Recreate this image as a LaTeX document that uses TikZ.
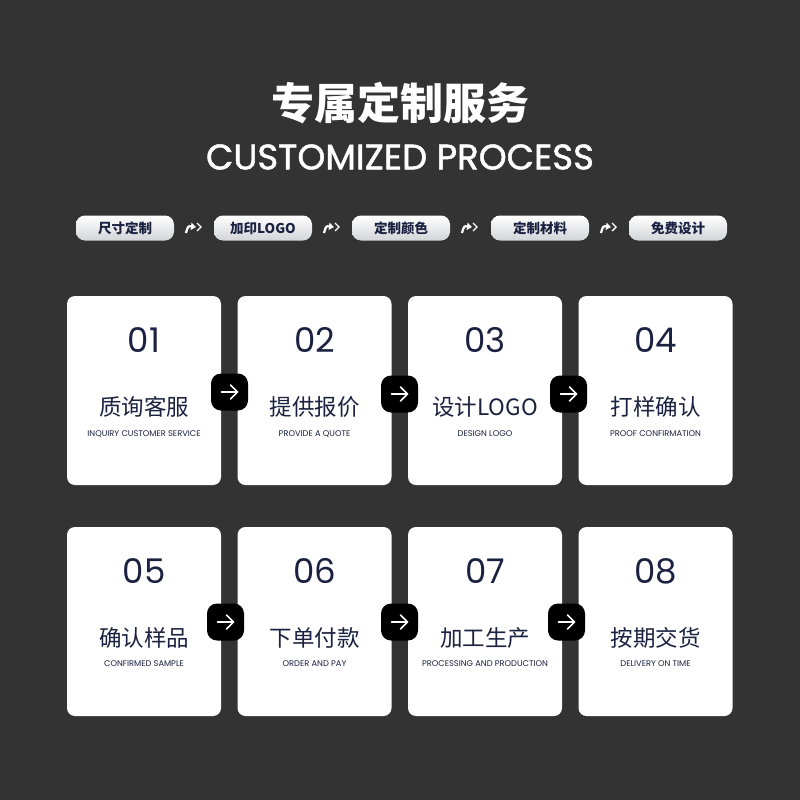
\documentclass[tikz,border=0pt]{standalone}
\usepackage{fontspec}
\setmainfont{Poppins}
\newfontfamily\cjk{Noto Sans CJK SC}
\newfontfamily\titlefont[FakeBold=1.3]{Poppins}
\usetikzlibrary{arrows.meta,positioning}
\definecolor{bgdark}{HTML}{333333}
\definecolor{navy}{HTML}{1B2140}
\definecolor{pillgray}{HTML}{D3D4D8}
\tikzset{
  pill/.style={rounded corners=9pt, minimum width=98pt, minimum height=25pt, inner sep=0pt,
    top color=white, bottom color=pillgray, text=navy, font=\cjk\bfseries\fontsize{13.5}{13.5}\selectfont},
  card/.style={fill=white, rounded corners=8pt, minimum width=154pt, minimum height=189pt, inner sep=0pt},
  stepnum/.style={text=navy, inner sep=0pt, font=\fontsize{34}{34}\selectfont},
  stepzh/.style={text=navy, inner sep=0pt, font=\cjk\fontsize{22.5}{22.5}\selectfont},
  stepen/.style={text=navy, inner sep=0pt, font=\fontsize{8.3}{8.3}\selectfont},
  nextbox/.style={fill=black, rounded corners=10pt, minimum size=37pt, inner sep=0pt},
  nextarrow/.style={white, line width=1.5pt, line cap=round, line join=round},
}
% small white arrow between two pills, #1 = name of its coordinate
\newcommand{\pillarrow}[1]{%
  \draw[white, line width=2.2pt, -{Triangle[length=5pt,width=7pt]}] ([shift={(-8,5)}]#1) .. controls ([shift={(-6,-2)}]#1) .. ([shift={(2,-1)}]#1);
  \draw[white, line width=1.4pt] ([shift={(3,-5)}]#1) -- ([shift={(7,-1)}]#1) -- ([shift={(3,3)}]#1);
}
% white arrow inside a black box
\newcommand{\boxarrow}[1]{%
  \draw[nextarrow] ([xshift=-8pt]#1.center) -- ([xshift=8pt]#1.center);
  \draw[nextarrow] ([shift={(1,-7)}]#1.center) -- ([xshift=8pt]#1.center) -- ([shift={(1,7)}]#1.center);
}
\begin{document}
\begin{tikzpicture}[x=1pt,y=-1pt]
\fill[bgdark] (0,0) rectangle (800,800);
% Title
\node[text=white, inner sep=0pt, font=\cjk\bfseries\fontsize{43}{43}\selectfont] (title) at (400,103) {专属定制服务};
\node[text=white, inner sep=0pt, font=\titlefont\fontsize{35.5}{35.5}\selectfont] (subtitle) at (400,157) {CUSTOMIZED PROCESS};
% Pills
\node[pill] (p1) at (125,228) {尺寸定制};
\node[pill] (p2) at (263,228) {加印LOGO};
\node[pill] (p3) at (401,228) {定制颜色};
\node[pill] (p4) at (540,228) {定制材料};
\node[pill] (p5) at (678,228) {免费设计};
\coordinate (pa1) at (194,228);
\coordinate (pa2) at (332,228);
\coordinate (pa3) at (470,228);
\coordinate (pa4) at (609,228);
\pillarrow{pa1}
\pillarrow{pa2}
\pillarrow{pa3}
\pillarrow{pa4}
% Cards, first row
\node[card] (c1) at (144,390.5) {};
\node[card] (c2) at (314.5,390.5) {};
\node[card] (c3) at (485,390.5) {};
\node[card] (c4) at (655.5,390.5) {};
\node[stepnum] (n1) at (144,340) {01};
\node[stepzh] (z1) at (144,407) {质询客服};
\node[stepen] (e1) at (144,434) {INQUIRY CUSTOMER SERVICE};
\node[stepnum] (n2) at (314.5,340) {02};
\node[stepzh] (z2) at (314.5,407) {提供报价};
\node[stepen] (e2) at (314.5,434) {PROVIDE A QUOTE};
\node[stepnum] (n3) at (485,340) {03};
\node[stepzh] (z3) at (485,407) {设计LOGO};
\node[stepen] (e3) at (485,434) {DESIGN LOGO};
\node[stepnum] (n4) at (655.5,340) {04};
\node[stepzh] (z4) at (655.5,407) {打样确认};
\node[stepen] (e4) at (655.5,434) {PROOF CONFIRMATION};
% Cards, second row
\node[card] (c5) at (144,621.5) {};
\node[card] (c6) at (314.5,621.5) {};
\node[card] (c7) at (485,621.5) {};
\node[card] (c8) at (655.5,621.5) {};
\node[stepnum] (n5) at (144,571) {05};
\node[stepzh] (z5) at (144,638) {确认样品};
\node[stepen] (e5) at (144,664) {CONFIRMED SAMPLE};
\node[stepnum] (n6) at (314.5,571) {06};
\node[stepzh] (z6) at (314.5,638) {下单付款};
\node[stepen] (e6) at (314.5,664) {ORDER AND PAY};
\node[stepnum] (n7) at (485,571) {07};
\node[stepzh] (z7) at (485,638) {加工生产};
\node[stepen] (e7) at (485,664) {PROCESSING AND PRODUCTION};
\node[stepnum] (n8) at (655.5,571) {08};
\node[stepzh] (z8) at (655.5,638) {按期交货};
\node[stepen] (e8) at (655.5,664) {DELIVERY ON TIME};
% Arrow boxes between cards
\node[nextbox] (b1) at (229.5,392) {};
\node[nextbox] (b2) at (399.5,394) {};
\node[nextbox] (b3) at (568.5,394) {};
\node[nextbox] (b4) at (225.5,622) {};
\node[nextbox] (b5) at (399.5,622) {};
\node[nextbox] (b6) at (566.5,622) {};
\boxarrow{b1}
\boxarrow{b2}
\boxarrow{b3}
\boxarrow{b4}
\boxarrow{b5}
\boxarrow{b6}
\end{tikzpicture}
\end{document}
